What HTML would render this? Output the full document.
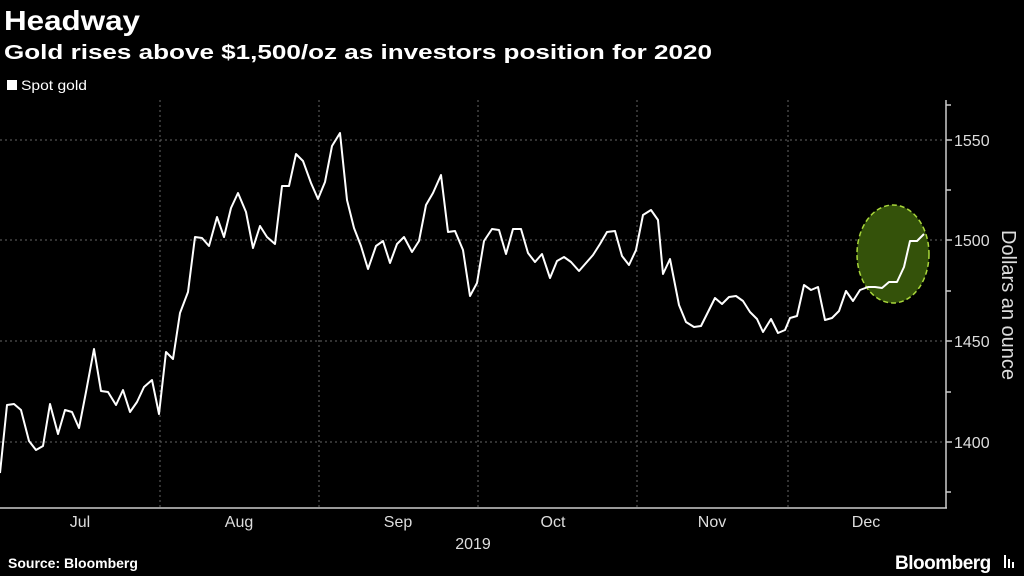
<!DOCTYPE html>
<html><head><meta charset="utf-8"><style>
body{margin:0;background:#000;width:1024px;height:576px;overflow:hidden;font-family:"Liberation Sans",sans-serif;color:#fff}
</style></head><body>
<svg width="1024" height="576" xmlns="http://www.w3.org/2000/svg" style="position:absolute;left:0;top:0">
<text x="4" y="30" font-size="28" font-weight="bold" fill="#fff" textLength="136" lengthAdjust="spacingAndGlyphs">Headway</text>
<text x="4" y="59" font-size="20" font-weight="bold" fill="#fff" textLength="708" lengthAdjust="spacingAndGlyphs">Gold rises above $1,500/oz as investors position for 2020</text>
<rect x="7" y="80" width="10" height="10" fill="#fff"/>
<text x="21" y="90" font-size="14" fill="#fff" textLength="66" lengthAdjust="spacingAndGlyphs">Spot gold</text>
<g stroke="#666" stroke-dasharray="2,3" stroke-width="1">
<line x1="0" x2="945" y1="140" y2="140"/><line x1="0" x2="945" y1="240" y2="240"/>
<line x1="0" x2="945" y1="341" y2="341"/><line x1="0" x2="945" y1="442" y2="442"/>
<line x1="160" x2="160" y1="100" y2="507"/><line x1="319" x2="319" y1="100" y2="507"/>
<line x1="478" x2="478" y1="100" y2="507"/><line x1="637" x2="637" y1="100" y2="507"/>
<line x1="788" x2="788" y1="100" y2="507"/>
</g>
<g stroke="#ccc" stroke-width="1.5" fill="none">
<line x1="946" y1="100" x2="946" y2="508"/><line x1="0" y1="508" x2="947" y2="508"/>
<line x1="946" x2="952" y1="140" y2="140"/><line x1="946" x2="952" y1="240" y2="240"/>
<line x1="946" x2="952" y1="341" y2="341"/><line x1="946" x2="952" y1="442" y2="442"/>
<line x1="946" x2="951" y1="190" y2="190"/><line x1="946" x2="951" y1="291" y2="291"/>
<line x1="946" x2="951" y1="392" y2="392"/><line x1="946" x2="951" y1="492" y2="492"/>
<line x1="946" x2="951" y1="105" y2="105"/>
</g>
<g font-size="16" fill="#ddd">
<text x="954" y="146">1550</text><text x="954" y="246">1500</text>
<text x="954" y="347">1450</text><text x="954" y="448">1400</text>
<text x="80" y="527" text-anchor="middle">Jul</text><text x="239" y="527" text-anchor="middle">Aug</text>
<text x="398" y="527" text-anchor="middle">Sep</text><text x="553" y="527" text-anchor="middle">Oct</text>
<text x="712" y="527" text-anchor="middle">Nov</text><text x="866" y="527" text-anchor="middle">Dec</text>
<text x="473" y="549" text-anchor="middle">2019</text>
</g>
<text transform="translate(1002,305) rotate(90)" text-anchor="middle" font-size="20" fill="#ddd">Dollars an ounce</text>
<ellipse cx="893" cy="254" rx="36" ry="49" fill="#34520a" stroke="#a8d63a" stroke-width="1.5" stroke-dasharray="5,3"/>
<polyline fill="none" stroke="#fff" stroke-width="2" stroke-linejoin="round" points="0,473 7,405 14,404 21,410 29,441 36,450 43,446 50,404 58,434 65,410 72,412 79,428 86,392 94,349 101,391 108,392 116,405 123,390 130,412 137,402 144,387 152,380 159,414 166,352 173,359 180,313 188,292 195,237 202,238 209,246 217,217 224,237 231,208 238,193 246,212 253,248 260,226 267,237 275,244 282,186 289,186 296,154 303,161 311,183 318,199 325,182 332,146 340,133 347,200 354,228 361,246 368,269 376,246 383,241 390,263 397,244 404,237 412,252 419,241 426,205 433,193 441,175 448,232 455,231 463,250 470,296 477,283 484,241 492,229 499,230 506,254 513,229 521,229 528,253 535,262 542,254 550,278 557,261 564,257 571,262 579,271 586,263 593,255 600,244 607,232 615,231 622,256 629,265 636,250 643,215 651,210 658,220 663,274 670,259 679,305 686,322 694,327 701,326 708,312 715,298 722,304 729,297 736,296 743,301 750,312 757,319 763,332 771,319 778,333 785,330 790,318 797,316 804,285 811,290 818,287 825,320 832,318 839,311 846,291 853,301 860,290 868,287 875,287 882,288 889,282 897,282 904,267 910,241 917,241 924,234"/>
<text x="8" y="568" font-size="14" font-weight="bold" fill="#fff">Source: Bloomberg</text>
<text x="895" y="569" font-size="19" font-weight="bold" fill="#fff" letter-spacing="-0.5">Bloomberg</text>
<rect x="1004" y="555" width="2" height="13" fill="#fff"/><rect x="1008" y="559" width="2" height="9" fill="#fff"/><rect x="1012" y="562" width="2" height="6" fill="#fff"/>
</svg>
</body></html>
